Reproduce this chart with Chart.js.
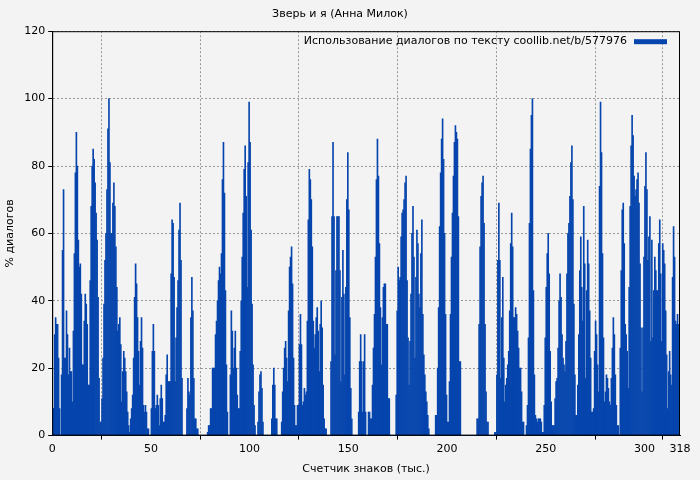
<!DOCTYPE html>
<html>
<head>
<meta charset="utf-8">
<script src="https://cdn.jsdelivr.net/npm/chart.js@4"></script>
<style>
body { margin: 0; background: #f3f3f3; }
#wrap { width: 700px; height: 480px; }
</style>
</head>
<body>
<div id="wrap"><canvas id="chart"></canvas></div>
<script>
// one value every 0.5 thousand characters
var values = [
8,8, 30,35, 33,33, 23,8, 0,18, 55,73, 23,23, 37,30, 18,26, 19,19,
10,31, 54,78, 90,80, 58,50, 51,42, 21,21, 34,42, 39,33, 15,15, 46,68,
80,85, 82,75, 66,58, 41,17, 4,4, 11,23, 39,52, 60,73, 91,100, 81,60,
60,69, 75,68, 56,44, 31,33, 35,27, 10,19, 25,23, 19,13, 7,3, 1,5,
8,12, 23,41, 51,45, 35,25, 15,28, 35,26, 9,7, 9,7, 2,2, 0,0,
8,25, 33,25, 8,9, 12,9, 3,11, 15,11, 4,4, 6,18, 24,16, 16,16,
48,64, 63,47, 16,29, 38,46, 61,69, 52,17, 0,0, 0,0, 8,17, 13,12,
35,47, 37,17, 5,5, 2,2, 0,0, 0,0, 0,0, 0,0, 0,1, 3,3,
8,8, 20,20, 20,30, 34,40, 46,50, 48,54, 76,87, 72,43, 21,7, 0,0,
18,37, 31,20, 26,31, 20,12, 8,8, 25,40, 53,66, 79,86, 71,44, 81,99,
87,61, 39,21, 9,3, 0,0, 4,13, 18,19, 14,4, 0,0, 0,0, 0,0,
0,0, 5,15, 20,15, 5,5, 0,0, 0,0, 4,13, 20,26, 28,23, 16,37,
50,53, 56,45, 23,9, 3,3, 9,9, 27,36, 27,9, 10,14, 12,13, 34,64,
79,76, 70,56, 34,26, 30,35, 38,31, 19,33, 40,32, 15,5, 2,2, 0,0,
0,0, 22,65, 87,65, 24,49, 65,65, 65,49, 16,41, 55,42, 18,44, 70,84,
67,35, 14,5, 0,0, 0,0, 0,0, 7,22, 30,22, 7,22, 30,7, 0,0,
7,7, 5,5, 15,26, 36,53, 76,88, 77,57, 38,21, 35,44, 45,45, 33,33,
11,11, 0,0, 0,0, 0,0, 12,37, 50,46, 47,59, 66,67, 70,75, 77,46,
29,15, 28,42, 60,68, 53,23, 47,61, 57,42, 38,54, 64,36, 24,18, 13,10,
6,2, 0,0, 0,0, 0,0, 6,6, 20,38, 62,78, 88,94, 82,60, 36,12,
4,4, 16,36, 53,66, 77,87, 92,90, 88,65, 22,22, 0,0, 0,0, 0,0,
0,0, 0,0, 0,0, 0,0, 0,0, 5,5, 33,56, 71,75, 77,63, 33,13,
4,4, 0,0, 0,0, 0,0, 1,1, 18,52, 69,52, 17,35, 47,23, 10,15,
17,21, 25,37, 57,66, 56,35, 35,38, 36,31, 26,20, 20,13, 4,4, 0,0,
3,9, 29,63, 85,95, 100,43, 18,6, 5,4, 5,5, 5,4, 1,1, 9,29,
44,54, 60,48, 25,10, 3,3, 3,11, 16,17, 26,40, 48,41, 30,23, 21,19,
28,48, 60,63, 71,81, 86,70, 39,18, 6,6, 15,30, 49,59, 44,34, 68,51,
17,43, 58,51, 37,23, 7,7, 8,25, 34,30, 21,13, 74,99, 84,54, 29,10,
13,18, 17,14, 10,9, 17,26, 35,30, 18,9, 3,3, 0,26, 49,67, 69,57,
33,30, 25,14, 44,68, 86,95, 89,77, 71,73, 76,78, 69,51, 32,13, 32,53,
74,84, 73,52, 59,65, 28,58, 29,43, 53,49, 43,43, 57,64, 48,28, 57,55,
51,37, 24,8, 19,25, 18,15, 47,62, 53,34, 33,36, 33,33
];
var seriesLabel = 'Использование диалогов по тексту coollib.net/b/577976';
var chartTitle = 'Зверь и я (Анна Милок)';
var xLabel = 'Счетчик знаков (тыс.)';
var yLabel = '% диалогов';

var points = values.map(function (v, i) { return { x: i * 0.5 + 0.25, y: v }; });
var blue = '#0645ad';

var legendInside = {
  id: 'legendInside',
  afterDraw: function (chart) {
    var ctx = chart.ctx, a = chart.chartArea;
    ctx.save();
    ctx.font = '11px "DejaVu Sans"';
    ctx.fillStyle = '#000';
    ctx.textAlign = 'right';
    ctx.textBaseline = 'middle';
    ctx.fillText(seriesLabel, a.right - 53, a.top + 10);
    ctx.fillStyle = blue;
    ctx.fillRect(a.right - 46, a.top + 8, 33, 5);
    ctx.restore();
  }
};

new Chart(document.getElementById('chart'), {
  type: 'bar',
  data: {
    datasets: [{
      label: seriesLabel,
      data: points,
      backgroundColor: blue,
      borderWidth: 0,
      barPercentage: 1,
      categoryPercentage: 1
    }]
  },
  options: {
    responsive: true,
    maintainAspectRatio: false,
    animation: false,
    layout: { padding: { top: 4, right: 20, left: 0, bottom: 0 } },
    plugins: {
      legend: { display: false },
      tooltip: { enabled: false },
      title: {
        display: true, text: chartTitle, color: '#000',
        font: { family: 'DejaVu Sans', size: 11, weight: 'normal' },
        padding: { top: 4, bottom: 10 }
      }
    },
    scales: {
      x: {
        type: 'linear', min: 0, max: 318, offset: false,
        ticks: { stepSize: 50, color: '#000', font: { family: 'DejaVu Sans', size: 11 } },
        grid: { color: '#999', borderDash: [2, 2], tickColor: '#000', tickLength: 4 },
        border: { color: '#000', dash: [2, 2] },
        title: { display: true, text: xLabel, color: '#000', font: { family: 'DejaVu Sans', size: 11 } }
      },
      y: {
        min: 0, max: 120,
        ticks: { stepSize: 20, color: '#000', font: { family: 'DejaVu Sans', size: 11 } },
        grid: { color: '#999', tickColor: '#000', tickLength: 4 },
        border: { color: '#000', dash: [2, 2] },
        title: { display: true, text: yLabel, color: '#000', font: { family: 'DejaVu Sans', size: 11 } }
      }
    }
  },
  plugins: [legendInside, {
    id: 'frame',
    beforeDraw: function (chart) {
      var c = chart.ctx;
      c.save(); c.fillStyle = '#f3f3f3'; c.fillRect(0, 0, chart.width, chart.height); c.restore();
    },
    afterDatasetsDraw: function (chart) {
      var c = chart.ctx, a = chart.chartArea;
      c.save(); c.strokeStyle = '#000'; c.lineWidth = 1;
      c.strokeRect(a.left + 0.5, a.top + 0.5, a.right - a.left - 1, a.bottom - a.top - 1);
      c.restore();
    }
  }]
});
</script>
</body>
</html>
